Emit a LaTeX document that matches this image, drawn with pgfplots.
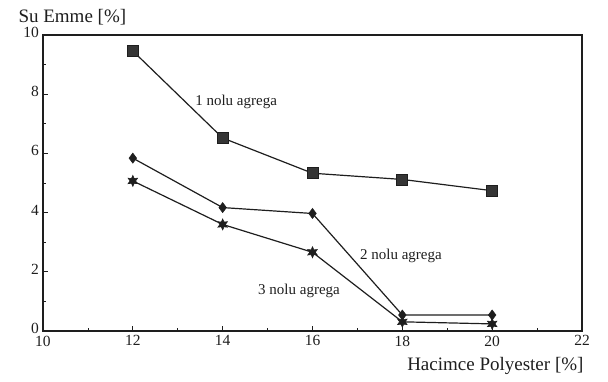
\documentclass[border=0pt]{standalone}
\usepackage{fontspec}
\setmainfont{Liberation Serif}
\usepackage{pgfplots}
\pgfplotsset{compat=1.18}
\pgfdeclareplotmark{star6}{%
  \pgfpathmoveto{\pgfpointpolar{90}{\pgfplotmarksize}}%
  \pgfpathlineto{\pgfpointpolar{120}{0.5\pgfplotmarksize}}%
  \pgfpathlineto{\pgfpointpolar{150}{\pgfplotmarksize}}%
  \pgfpathlineto{\pgfpointpolar{180}{0.5\pgfplotmarksize}}%
  \pgfpathlineto{\pgfpointpolar{210}{\pgfplotmarksize}}%
  \pgfpathlineto{\pgfpointpolar{240}{0.5\pgfplotmarksize}}%
  \pgfpathlineto{\pgfpointpolar{270}{\pgfplotmarksize}}%
  \pgfpathlineto{\pgfpointpolar{300}{0.5\pgfplotmarksize}}%
  \pgfpathlineto{\pgfpointpolar{330}{\pgfplotmarksize}}%
  \pgfpathlineto{\pgfpointpolar{0}{0.5\pgfplotmarksize}}%
  \pgfpathlineto{\pgfpointpolar{30}{\pgfplotmarksize}}%
  \pgfpathlineto{\pgfpointpolar{60}{0.5\pgfplotmarksize}}%
  \pgfpathclose
  \pgfusepathqfillstroke
}
\definecolor{ink}{HTML}{1E1E1E}
\begin{document}
\begin{tikzpicture}
\useasboundingbox (-43pt,-50pt) rectangle (565pt,331pt);
\begin{axis}[
  at={(0pt,0pt)}, anchor=south west,
  scale only axis, width=539pt, height=296pt,
  xmin=10, xmax=22, ymin=0, ymax=10,
  xtick={10,12,...,22}, ytick={0,2,...,10},
  minor x tick num=1, minor y tick num=1,
  tick align=inside, tick pos=left,
  major tick length=5pt, minor tick length=3pt,
  every tick/.style={ink, line width=0.8pt},
  axis line style={ink, line width=1.3pt},
  tick label style={font=\fontsize{15.5}{15.5}\selectfont, text=ink, inner sep=2pt},
  xticklabel style={yshift=-2.5pt},
  yticklabel style={yshift=2.5pt, xshift=-2pt},
  /pgf/number format/assume math mode=true,
  every axis x label/.style={at={(rel axis cs:1,0)}, anchor=east, xshift=5pt, yshift=-35pt, font=\fontsize{19}{19}\selectfont, text=ink},
  every axis y label/.style={at={(rel axis cs:0,1)}, anchor=west, xshift=-28pt, yshift=18pt, font=\fontsize{19}{19}\selectfont, text=ink},
  xlabel={Hacimce Polyester [\%]},
  ylabel={Su Emme [\%]},
]
\addplot[ink, line width=1.2pt, mark=square*, mark size=5.5pt, mark options={fill=ink!90, line width=0.8pt}]
  coordinates {(12,9.46) (14,6.52) (16,5.33) (18,5.12) (20,4.74)};
\addplot[ink, line width=1.2pt, mark=diamond*, mark size=5pt, mark options={fill=ink, line width=0.6pt}]
  coordinates {(12,5.84) (14,4.17) (16,3.97) (18,0.54) (20,0.54)};
\addplot[ink, line width=1.2pt, mark=star6, mark size=5.5pt, mark options={fill=ink, line width=0.6pt}]
  coordinates {(12,5.07) (14,3.60) (16,2.66) (18,0.31) (20,0.24)};
\node[font=\fontsize{15}{15}\selectfont, text=ink] at (axis cs:14.30,7.74) {1 nolu agrega};
\node[font=\fontsize{15}{15}\selectfont, text=ink] at (axis cs:17.97,2.53) {2 nolu agrega};
\node[font=\fontsize{15}{15}\selectfont, text=ink] at (axis cs:15.70,1.37) {3 nolu agrega};
\end{axis}
\end{tikzpicture}
\end{document}
